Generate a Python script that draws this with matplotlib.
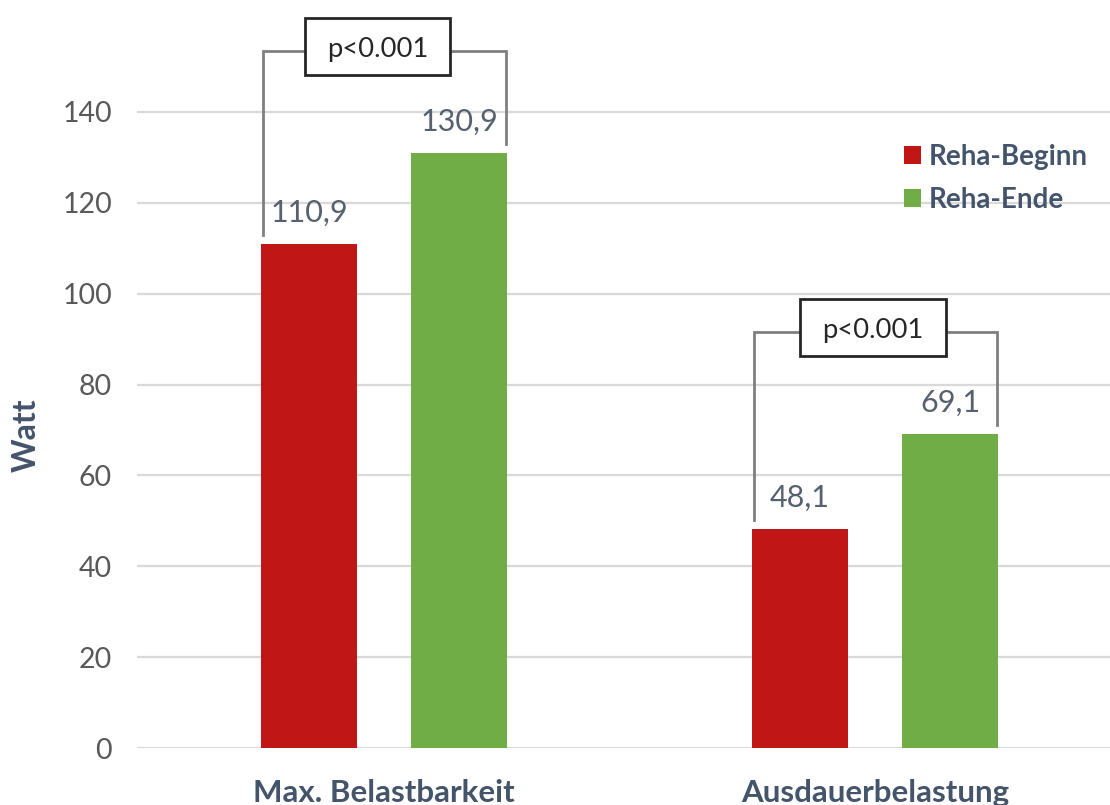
import matplotlib
matplotlib.use("Agg")
import matplotlib.pyplot as plt
from matplotlib.patches import Rectangle, Patch
import numpy as np

# Data
categories = ["Max. Belastbarkeit", "Ausdauerbelastung"]
series_names = ["Reha-Beginn", "Reha-Ende"]
reha_beginn = [110.9, 48.1]
reha_ende = [130.9, 69.1]
p_labels = ["p<0.001", "p<0.001"]
y_ticks = [0, 20, 40, 60, 80, 100, 120, 140]

RED = "#C11616"
GREEN = "#70AD47"
TICK_GRAY = "#595959"
SLATE = "#44546A"
VALUE_COL = "#56606E"
GRID = "#D9D9D9"
BRACKET = "#7F7F7F"

plt.rcParams["font.family"] = ["Lato", "DejaVu Sans"]

W, H, DPI = 1110, 805, 100
fig = plt.figure(figsize=(W / DPI, H / DPI), dpi=DPI)
fig.patch.set_facecolor("white")

ax_left, ax_bottom = 137 / W, (H - 748) / H
ax = fig.add_axes([ax_left, ax_bottom, 1 - ax_left, 1 - ax_bottom])

x = np.arange(len(categories))
offset = 0.1527
width = 0.1955

bars_a = ax.bar(x - offset, reha_beginn, width, color=RED, zorder=3, label=series_names[0])
bars_b = ax.bar(x + offset, reha_ende, width, color=GREEN, zorder=3, label=series_names[1])

ax.set_xlim(-0.503, 1.4786)
ax.set_ylim(0, 748 / 4.543)

ax.set_yticks(y_ticks)
ax.set_yticklabels([str(t) for t in y_ticks])
for t in y_ticks:
    ax.axhline(t, color=GRID, lw=1.6, zorder=1)
ax.tick_params(axis="y", length=0, pad=18, labelsize=20.5, labelcolor=TICK_GRAY)

ax.set_xticks(x)
ax.set_xticklabels(categories, fontweight="bold", color=SLATE)
ax.tick_params(axis="x", length=0, pad=22, labelsize=22.5)

for s in ax.spines.values():
    s.set_visible(False)

# Axis title, centred left of the tick labels
fig.text(26 / W, 1 - 435 / H, "Watt", rotation=90, ha="center", va="center",
         fontsize=23, fontweight="bold", color=SLATE)

# Value labels above the bars
for bars, vals in ((bars_a, reha_beginn), (bars_b, reha_ende)):
    for b, v in zip(bars, vals):
        ax.annotate(f"{v:.1f}".replace(".", ","),
                    xy=(b.get_x() + b.get_width() / 2, v),
                    xytext=(0, 22.5), textcoords="offset points",
                    ha="center", va="center", fontsize=22, color=VALUE_COL,
                    zorder=4)

# Significance brackets with boxed p-values
px_x = 1 / 491.0   # data units per pixel, x
px_y = 1 / 4.543   # data units per pixel, y
box_w = 145 * px_x
box_h = 57 * px_y
for i, (a, b, p) in enumerate(zip(reha_beginn, reha_ende, p_labels)):
    xl = x[i] - offset - width / 2 + 2 * px_x
    xr = x[i] + offset + width / 2 - 1 * px_x
    top = max(a, b) + 22.5
    ax.plot([xl, xl, xr, xr], [a + 2.0, top, top, b + 2.0],
            color=BRACKET, lw=2.0, zorder=4, clip_on=False,
            solid_joinstyle="miter")
    cx = x[i] - (6 if i == 0 else 2) * px_x
    cy = top + 1.0
    ax.add_patch(Rectangle((cx - box_w / 2, cy - box_h / 2), box_w, box_h,
                           facecolor="white", edgecolor="#262626", lw=2.0,
                           zorder=5, clip_on=False))
    ax.text(cx, cy - 0.6, p, ha="center", va="center", fontsize=19.7,
            color="#262626", zorder=6)

handles = [Patch(facecolor=RED, edgecolor="none"), Patch(facecolor=GREEN, edgecolor="none")]
leg = ax.legend(handles, series_names, loc="upper left",
                bbox_to_anchor=(904 / W, 1 - 144 / H), bbox_transform=fig.transFigure,
                frameon=False, borderpad=0, borderaxespad=0,
                handlelength=0.62, handleheight=0.62, handletextpad=0.28,
                labelspacing=0.62, prop={"weight": "bold", "size": 20})
for t in leg.get_texts():
    t.set_color(SLATE)

fig.savefig("out.png", dpi=DPI, facecolor="white")
